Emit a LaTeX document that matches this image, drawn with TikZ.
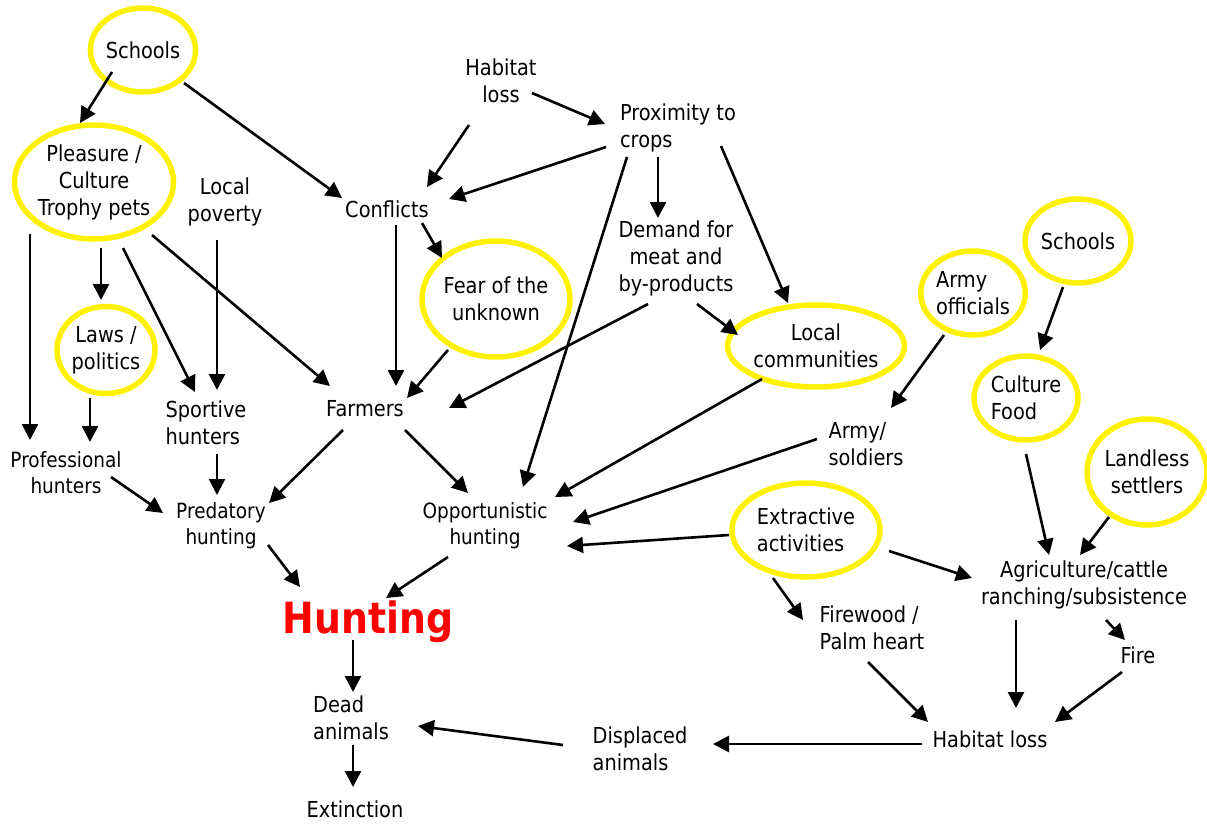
\documentclass[tikz,border=0pt]{standalone}
\usepackage{fontspec}
\setmainfont{DejaVu Sans}[FakeStretch=0.88]
\usetikzlibrary{arrows.meta,shapes.geometric,calc}
\tikzset{
  txt/.style={font=\fontsize{22}{27}\selectfont, align=center, inner sep=0pt, text=black},
  lft/.style={txt, align=left},
  sml/.style={font=\fontsize{21}{26}\selectfont, align=center, inner sep=0pt},
  yel/.style={txt, ellipse, draw=yellow, line width=5.5pt, inner sep=0pt},
  arr/.style={line width=2.6pt, draw=black, -{Triangle[length=16pt,width=16pt]}},
  hunt/.style={font=\fontsize{43}{45}\selectfont\bfseries, text=red, inner sep=0pt}
}
\begin{document}
\begin{tikzpicture}[x=1pt,y=-1pt]
\useasboundingbox (0,0) rectangle (1207,824);
% encircled nodes
\node[yel, minimum width=104pt, minimum height=84pt] (schoolsA) at (143,50) {Schools};
\node[yel, minimum width=156pt, minimum height=114pt] (pleasure) at (94,182) {Pleasure /\\Culture\\Trophy pets};
\node[yel, minimum width=98pt, minimum height=87pt] (laws) at (106,350) {Laws /\\politics};
\node[yel, minimum width=136pt, minimum height=116pt] (fear) at (496,299) {Fear of the\\unknown};
\node[yel, minimum width=146pt, minimum height=82pt] (localcomm) at (816,346) {Local\\communities};
\node[yel, align=left, minimum width=104pt, minimum height=84pt] (armyoff) at (973,293) {Army\\officials};
\node[yel, minimum width=106pt, minimum height=84pt] (schoolsB) at (1078,241) {Schools};
\node[yel, align=left, minimum width=104pt, minimum height=84pt] (culture) at (1026,398) {Culture\\Food};
\node[yel, minimum width=115pt, minimum height=106pt] (landless) at (1147,472) {Landless\\settlers};
\node[yel, align=left, minimum width=148pt, minimum height=94pt] (extractive) at (806,530) {Extractive\\activities};
% plain text nodes
\node[txt] (poverty) at (225,202) {Local\\poverty};
\node[txt] (conflicts) at (387,209) {Conflicts};
\node[txt] (habtop) at (501,81) {Habitat\\loss};
\node[lft] (prox) at (678,128) {Proximity to\\crops};
\node[txt] (demand) at (676,258) {Demand for\\meat and\\by-products};
\node[lft] (sportive) at (206,423) {Sportive\\hunters};
\node[txt] (farmers) at (365,409) {Farmers};
\node[sml] (prof) at (66,473) {Professional\\hunters};
\node[sml] (pred) at (221,526) {Predatory\\hunting};
\node[sml] (opp) at (485,526) {Opportunistic\\hunting};
\node[hunt] (hunting) at (368,622) {Hunting};
\node[lft] (dead) at (351,718) {Dead\\animals};
\node[txt] (ext) at (355,809) {Extinction};
\node[lft] (army) at (866,444) {Army/\\soldiers};
\node[txt] (agri) at (1084,585) {Agriculture/cattle\\ranching/subsistence};
\node[lft] (firewood) at (872,628) {Firewood /\\Palm heart};
\node[txt] (fire) at (1138,655) {Fire};
\node[txt] (habbot) at (990,739) {Habitat loss};
\node[lft] (displaced) at (640,749) {Displaced\\animals};
% connectors
\draw[arr] ($(schoolsA)+(-31,22)$) -- ($(pleasure)+(-14,-59)$);
\draw[arr] ($(schoolsA)+(41,33)$) -- ($(conflicts)+(-45,-11)$);
\draw[arr] ($(habtop)+(-32,44)$) -- ($(conflicts)+(40,-22)$);
\draw[arr] ($(habtop)+(31,12)$) -- ($(prox)+(-73,-4)$);
\draw[arr] ($(prox)+(-72,19)$) -- ($(conflicts)+(62,-10)$);
\draw[arr] ($(prox)+(-51,29)$) -- ($(opp)+(38,-39)$);
\draw[arr] ($(prox)+(-20,29)$) -- ($(demand)+(-18,-40)$);
\draw[arr] ($(prox)+(43,18)$) -- ($(localcomm)+(-28,-43)$);
\draw[arr] ($(conflicts)+(35,14)$) -- ($(fear)+(-54,-41)$);
\draw[arr] ($(conflicts)+(9,16)$) -- ($(farmers)+(31,-23)$);
\draw[arr] ($(fear)+(-48,51)$) -- ($(farmers)+(42,-11)$);
\draw[arr] ($(demand)+(-28,46)$) -- ($(farmers)+(84,-1)$);
\draw[arr] ($(demand)+(21,46)$) -- ($(localcomm)+(-78,-11)$);
\draw[arr] ($(localcomm)+(-54,33)$) -- ($(opp)+(70,-29)$);
\draw[arr] ($(armyoff)+(-29,42)$) -- ($(army)+(25,-36)$);
\draw[arr] ($(army)+(-49,-5)$) -- ($(opp)+(88,-4)$);
\draw[arr] ($(extractive)+(-77,5)$) -- ($(opp)+(82,20)$);
\draw[arr] ($(extractive)+(83,21)$) -- ($(agri)+(-112,-7)$);
\draw[arr] ($(extractive)+(-33,48)$) -- ($(firewood)+(-69,-8)$);
\draw[arr] ($(schoolsB)+(-15,46)$) -- ($(culture)+(14,-48)$);
\draw[arr] ($(culture)+(0,56)$) -- ($(agri)+(-35,-30)$);
\draw[arr] ($(landless)+(-38,45)$) -- ($(agri)+(-4,-30)$);
\draw[arr] ($(agri)+(-68,35)$) -- ($(habbot)+(26,-31)$);
\draw[arr] ($(agri)+(22,35)$) -- ($(fire)+(-13,-15)$);
\draw[arr] ($(fire)+(-16,17)$) -- ($(habbot)+(65,-17)$);
\draw[arr] ($(firewood)+(-4,34)$) -- ($(habbot)+(-62,-17)$);
\draw[arr] ($(habbot)+(-68,5)$) -- ($(displaced)+(73,-5)$);
\draw[arr] ($(displaced)+(-77,-4)$) -- ($(dead)+(67,8)$);
\draw[arr] ($(hunting)+(-15,18)$) -- ($(dead)+(2,-26)$);
\draw[arr] ($(dead)+(2,27)$) -- ($(ext)+(-2,-22)$);
\draw[arr] ($(pred)+(47,19)$) -- ($(hunting)+(-68,-35)$);
\draw[arr] ($(opp)+(-37,31)$) -- ($(hunting)+(18,-24)$);
\draw[arr] ($(farmers)+(-22,21)$) -- ($(pred)+(48,-23)$);
\draw[arr] ($(farmers)+(40,21)$) -- ($(opp)+(-17,-33)$);
\draw[arr] ($(prof)+(45,4)$) -- ($(pred)+(-58,-13)$);
\draw[arr] ($(sportive)+(11,31)$) -- ($(pred)+(-4,-31)$);
\draw[arr] ($(poverty)+(-8,38)$) -- ($(sportive)+(11,-33)$);
\draw[arr] ($(pleasure)+(-64,52)$) -- ($(prof)+(-36,-33)$);
\draw[arr] ($(pleasure)+(7,66)$) -- ($(laws)+(-5,-50)$);
\draw[arr] ($(laws)+(-16,48)$) -- ($(prof)+(24,-31)$);
\draw[arr] ($(pleasure)+(29,66)$) -- ($(sportive)+(-11,-31)$);
\draw[arr] ($(pleasure)+(58,53)$) -- ($(farmers)+(-35,-23)$);
\end{tikzpicture}
\end{document}
